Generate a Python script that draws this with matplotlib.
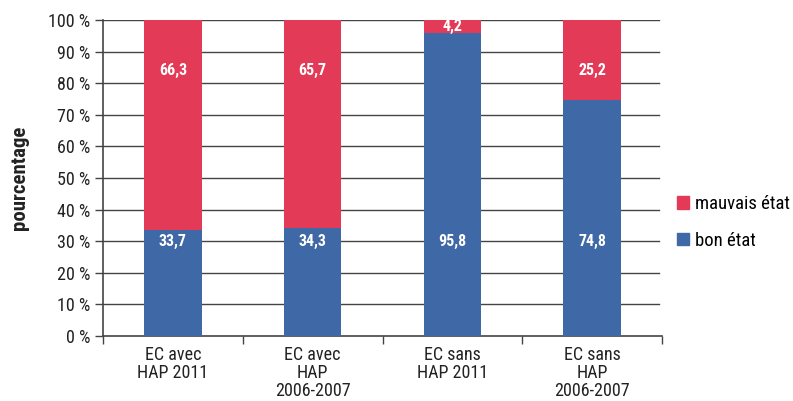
import matplotlib
matplotlib.use("Agg")
import matplotlib.pyplot as plt
from matplotlib import font_manager
from matplotlib.patches import Patch

categories = ["EC avec\nHAP 2011", "EC avec\nHAP\n2006-2007", "EC sans\nHAP 2011", "EC sans\nHAP\n2006-2007"]
bon_etat = [33.7, 34.3, 95.8, 74.8]
mauvais_etat = [66.3, 65.7, 4.2, 25.2]
bon_labels = ["33,7", "34,3", "95,8", "74,8"]
mauvais_labels = ["66,3", "65,7", "4,2", "25,2"]
yticks = [0, 10, 20, 30, 40, 50, 60, 70, 80, 90, 100]

# pick a narrow face if one is installed
names = {f.name for f in font_manager.fontManager.ttflist}
condensed = [n for n in ["Roboto Condensed", "Liberation Sans Narrow", "DejaVu Sans Condensed",
                         "Open Sans Condensed"] if n in names]
if condensed:
    family = condensed[0]
    stretch = "normal"
    scale = 1.0
else:
    family = "Roboto" if "Roboto" in names else "DejaVu Sans"
    stretch = "condensed"
    scale = 0.9
plt.rcParams["font.family"] = [family, "DejaVu Sans"]
plt.rcParams["font.stretch"] = stretch

RED = "#E33B57"
BLUE = "#3F68A6"
GRID = "#444444"
TXT = "#222222"

fig = plt.figure(figsize=(7.93, 4.01), dpi=100)
ax = fig.add_axes([103 / 793, 1 - 336 / 401, (662 - 103) / 793, (336 - 20) / 401])

x = list(range(len(categories)))
ax.set_xlim(-0.5, len(categories) - 0.5)
ax.set_ylim(0, 100)

for y in yticks[1:]:
    ax.axhline(y, color=GRID, lw=1.0, zorder=1, xmax=(659 - 103) / (662 - 103))

w = 0.41
ax.bar(x, bon_etat, width=w, color=BLUE, zorder=3)
ax.bar(x, mauvais_etat, width=w, bottom=bon_etat, color=RED, zorder=3)

for i in x:
    top = bon_etat[i] + mauvais_etat[i]
    seg = mauvais_etat[i]
    ytop = top - 16 if seg >= 20 else top - seg / 2
    ax.text(i, ytop, mauvais_labels[i], color="white", ha="center", va="center",
            fontsize=11.5 * scale, fontweight="bold", zorder=4)
    ax.text(i, 30, bon_labels[i], color="white", ha="center", va="center",
            fontsize=11.5 * scale, fontweight="bold", zorder=4)

ax.set_yticks(yticks)
ax.set_yticklabels([f"{v} %" for v in yticks], fontsize=13 * scale, color=TXT)
ax.tick_params(axis="y", length=6, width=1.0, color=GRID, pad=3)

ax.set_xticks([-0.5, 0.5, 1.5, 2.5, 3.5], minor=False)
ax.set_xticklabels([])
ax.set_xticks(x, minor=True)
ax.set_xticklabels(categories, minor=True, fontsize=13 * scale, color=TXT, linespacing=1.0)
ax.tick_params(axis="x", which="major", length=6, width=1.0, color=GRID, direction="out")
ax.tick_params(axis="x", which="minor", length=0, pad=7)

for s in ["top", "right"]:
    ax.spines[s].set_visible(False)
for s in ["left", "bottom"]:
    ax.spines[s].set_color(GRID)
    ax.spines[s].set_linewidth(1.2)

fig.text(20 / 793, 1 - 178 / 401, "pourcentage", rotation=90, ha="center", va="center",
         fontsize=15 * scale, fontweight="bold", color=TXT)

handles = [Patch(color=RED, label="mauvais état"), Patch(color=BLUE, label="bon état")]
fig.legend(handles=handles, loc="upper left", bbox_to_anchor=(677 / 793, 1 - 195 / 401),
           frameon=False, fontsize=13.5 * scale, handlelength=0.65, handleheight=0.65,
           handletextpad=0.3, labelspacing=1.0, borderaxespad=0, borderpad=0)

fig.savefig("out.png", dpi=100)
